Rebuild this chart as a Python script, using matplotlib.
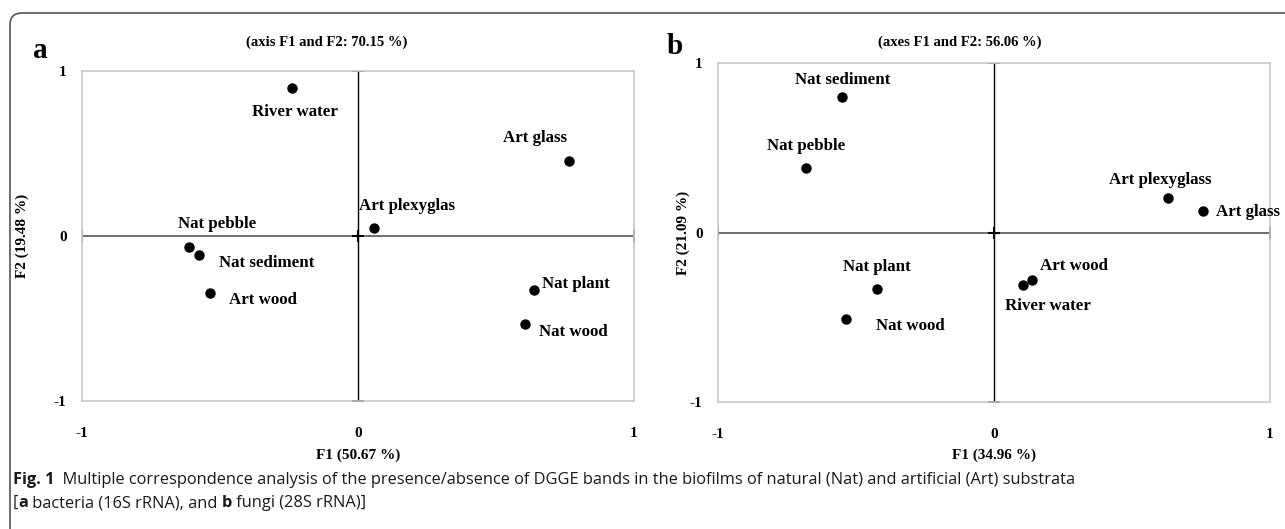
import numpy as np
import matplotlib
matplotlib.use("Agg")
import matplotlib.pyplot as plt
from matplotlib.patches import FancyBboxPatch

plt.rcParams["font.family"] = ["Liberation Serif", "DejaVu Serif"]
plt.rcParams["font.weight"] = "bold"

# panel a: bacteria
names_a = ["River water", "Art glass", "Art plexyglas", "Nat pebble",
           "Nat sediment", "Art wood", "Nat plant", "Nat wood"]
f1_a = [-0.24, 0.764, 0.058, -0.612, -0.576, -0.536, 0.638, 0.605]
f2_a = [0.897, 0.455, 0.048, -0.067, -0.115, -0.345, -0.327, -0.533]
off_a = [(3, -24), (-34, 23), (33, 22), (28, 23), (68, -8), (53, -7), (42, 6), (48, -8)]

# panel b: fungi
names_b = ["Nat sediment", "Nat pebble", "Art plexyglass", "Art glass",
           "Art wood", "River water", "Nat plant", "Nat wood"]
f1_b = [-0.551, -0.681, 0.63, 0.757, 0.138, 0.105, -0.424, -0.536]
f2_b = [0.80, 0.383, 0.206, 0.124, -0.283, -0.307, -0.336, -0.513]
off_b = [(1, 17), (0, 22), (-8, 18), (45, -1), (42, 14), (25, -21), (0, 22), (64, -7)]

ticks = [-1, 0, 1]

W, H = 1285, 529
fig = plt.figure(figsize=(W / 100, H / 100), dpi=100)

# background layer in pixel units
bg = fig.add_axes([0, 0, 1, 1])
bg.set_xlim(0, W)
bg.set_ylim(H, 0)
bg.axis("off")
bg.add_patch(FancyBboxPatch((10, 13), 1320, 560, boxstyle="round,pad=0,rounding_size=12",
                            fc="none", ec="#555555", lw=1.2))


def panel(rect, names, xs, ys, offs, letter, title, xlab, ylab, letter_xy, title_x, ylab_x):
    l, t, r, b = rect
    ax = fig.add_axes([l / W, 1 - b / H, (r - l) / W, (b - t) / H])
    ax.set_xlim(-1, 1)
    ax.set_ylim(-1, 1)
    for s in ax.spines.values():
        s.set_color("#c8c8c8")
        s.set_linewidth(1.2)
    ax.axhline(0, color="#555555", lw=1.2)
    ax.axvline(0, color="black", lw=1.0)
    ax.plot([0, 0], [-1, 1], ls="none", marker="_", ms=8, color="black", mew=1.2)
    ax.plot([-1, 1], [0, 0], ls="none", marker="|", ms=8, color="#333333", mew=1.2)
    ax.plot([0], [0], ls="none", marker="+", ms=8, color="black", mew=1.5)
    ax.scatter(xs, ys, s=42, color="black", zorder=5)
    for n, x, y, o in zip(names, xs, ys, offs):
        ax.annotate(n, (x, y), xytext=o, textcoords="offset pixels",
                    ha="center", va="center", fontsize=12.2, fontweight="bold")
    ax.set_xticks(ticks)
    ax.set_yticks(ticks)
    ax.set_xticklabels([str(v) for v in ticks], fontsize=11, fontweight="bold")
    ax.set_yticklabels([str(v) for v in ticks], fontsize=11, fontweight="bold")
    ax.tick_params(length=0, pad=19, axis="x")
    ax.tick_params(length=0, pad=11, axis="y")
    bg.text((l + r) / 2, 455, xlab, ha="center", va="center", fontsize=11, fontweight="bold")
    bg.text(ylab_x, (t + b) / 2, ylab, ha="center", va="center", rotation=90,
            fontsize=11, fontweight="bold")
    bg.text(title_x, 42, title, ha="center", va="center", fontsize=10.5, fontweight="bold")
    bg.text(letter_xy[0], letter_xy[1], letter, ha="center", va="center",
            fontsize=21, fontweight="bold")
    return ax


panel((82, 71, 634, 401), names_a, f1_a, f2_a, off_a, "a",
      "(axis F1 and F2: 70.15 %)", "F1 (50.67 %)", "F2 (19.48 %)", (40, 50), 327, 22)
panel((718, 63, 1270, 402), names_b, f1_b, f2_b, off_b, "b",
      "(axes F1 and F2: 56.06 %)", "F1 (34.96 %)", "F2 (21.09 %)", (675, 46), 960, 683)

# caption
cap = dict(family=["Open Sans", "DejaVu Sans"], fontsize=11.8, va="bottom", color="#1a1a1a")
t1 = bg.text(13, 488, "Fig. 1", fontweight="bold", **cap)
bg.annotate("  Multiple correspondence analysis of the presence/absence of DGGE bands in the biofilms "
            "of natural (Nat) and artificial (Art) substrata",
            xy=(1, 0), xycoords=t1, fontweight="normal", ha="left", **cap)
parts = [("[", "normal"), ("a", "bold"), (" bacteria (16S rRNA), and ", "normal"),
         ("b", "bold"), (" fungi (28S rRNA)]", "normal")]
prev = bg.text(13, 511, parts[0][0], fontweight=parts[0][1], **cap)
for s, w in parts[1:]:
    prev = bg.annotate(s, xy=(1, 0), xycoords=prev, fontweight=w, ha="left", **cap)

fig.savefig("out.png", dpi=100)
